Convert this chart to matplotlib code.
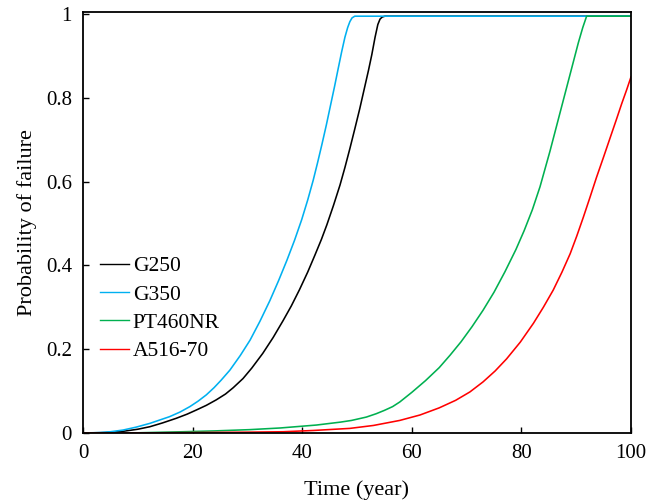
import matplotlib
matplotlib.use("Agg")
import matplotlib.pyplot as plt

plt.rcParams['font.family'] = ['Liberation Serif', 'DejaVu Serif']

# G250
x_g250 = [0, 4, 7.3, 10, 12.2, 14.5, 17.0, 19, 20.7, 22.5, 24.3, 26, 27.4, 29.2, 30.8, 32.8, 34.7, 36.5, 38, 39.5, 41, 42.3, 43.5, 44.5, 45.7, 46.9, 47.8,
          48.7, 49.6, 50.5, 51.3, 52.1, 52.7, 53.3, 53.8, 54.2, 54.6, 55.1, 60, 70, 80, 90, 100]
y_g250 = [0, 0.001, 0.004, 0.009, 0.015, 0.024, 0.035, 0.045, 0.055, 0.066, 0.079, 0.093, 0.108, 0.13, 0.155, 0.19, 0.228, 0.268, 0.303, 0.342, 0.384, 0.424, 0.462, 0.497, 0.543, 0.592, 0.634,
          0.679, 0.726, 0.774, 0.82, 0.866, 0.903, 0.945, 0.975, 0.988, 0.993, 0.995, 0.995, 0.995, 0.995, 0.995, 0.995]

# G350
x_g350 = [0, 3, 5, 7.3, 9.7, 12.2, 14, 15.8, 17.7, 19.5, 21, 22.5, 23.9, 25.2, 26.8, 28.7, 30.5, 32.3, 34.1, 35.7, 37.2, 38.6, 39.9, 41.0, 42.0,
          42.8, 43.6, 44.4, 45.1, 45.9, 46.6, 47.2, 47.8, 48.3, 48.7, 49.1, 49.6, 55, 60, 70, 80, 90, 100]
y_g350 = [0, 0.001, 0.003, 0.007, 0.014, 0.023, 0.031, 0.039, 0.05, 0.063, 0.076, 0.091, 0.108, 0.126, 0.15, 0.185, 0.222, 0.267, 0.316, 0.364, 0.412, 0.46, 0.509, 0.556, 0.603,
          0.645, 0.689, 0.735, 0.778, 0.827, 0.872, 0.91, 0.945, 0.968, 0.982, 0.991, 0.995, 0.995, 0.995, 0.995, 0.995, 0.995, 0.995]

# PT460NR
x_pt460 = [0, 10, 18.2, 24, 30.4, 36, 42.6, 47, 49, 51.7, 53.5, 55, 56.5, 57.8, 60, 62.5, 65, 67, 69, 71, 73, 75, 77, 79, 80.5, 82, 83.4,
           85.2, 87.0, 88.9, 90.4, 91.2, 91.9, 95, 100]
y_pt460 = [0, 0.0005, 0.003, 0.005, 0.008, 0.012, 0.019, 0.026, 0.03, 0.038, 0.046, 0.054, 0.063, 0.074, 0.097, 0.125, 0.156, 0.186, 0.218, 0.254, 0.293, 0.336, 0.385, 0.438, 0.483, 0.533, 0.588,
            0.672, 0.762, 0.857, 0.932, 0.968, 0.995, 0.995, 0.995]

# A516-70
x_a516 = [0, 10, 20, 30, 36.5, 42, 48.7, 53, 57.8, 61.5, 65, 68, 70.6, 73, 75.2, 77.3, 79.8, 82.2, 84.0, 85.8, 87.4, 88.9, 90.1, 91.3,
          92.5, 93.7, 95.0, 96.2, 97.3, 98.3, 99.2, 100]
y_a516 = [0, 0.0002, 0.001, 0.002, 0.003, 0.006, 0.011, 0.018, 0.03, 0.043, 0.06, 0.078, 0.098, 0.122, 0.148, 0.177, 0.217, 0.262, 0.3, 0.341, 0.384, 0.428, 0.47, 0.515,
          0.562, 0.61, 0.659, 0.705, 0.747, 0.786, 0.819, 0.85]

series = [
    ("G250", x_g250, y_g250, "#000000"),
    ("G350", x_g350, y_g350, "#00B0F0"),
    ("PT460NR", x_pt460, y_pt460, "#00B050"),
    ("A516-70", x_a516, y_a516, "#FF0000"),
]

fig = plt.figure(figsize=(6.59, 5.01), dpi=100)
ax = fig.add_axes([83/659, 1-433/501, (631-83)/659, (433-12)/501])

for name, xs, ys, c in series:
    ax.plot(xs, ys, color=c, lw=1.15, label=name, solid_joinstyle='round')

ax.set_xlim(0, 100)
ax.set_ylim(0, 1.005)
ax.set_xticks([0, 20, 40, 60, 80, 100])
ax.set_yticks([0, 0.2, 0.4, 0.6, 0.8, 1.0])
ax.set_yticklabels(["0", "0.2", "0.4", "0.6", "0.8", "1"])
ax.tick_params(direction='in', length=4, width=1, labelsize=15, pad=8)
for s in ax.spines.values():
    s.set_linewidth(1.3)

ax.set_xlabel("Time (year)", fontsize=16, labelpad=12)
ax.set_ylabel("Probability of failure", fontsize=16, labelpad=6)

leg = ax.legend(loc='upper left', bbox_to_anchor=(0.016, 0.44), frameon=False,
                fontsize=15.5, handlelength=1.35, handletextpad=0.15, labelspacing=0.38,
                borderaxespad=0)
for h in leg.get_lines():
    h.set_linewidth(1.0)

fig.savefig("out.png", dpi=100)
